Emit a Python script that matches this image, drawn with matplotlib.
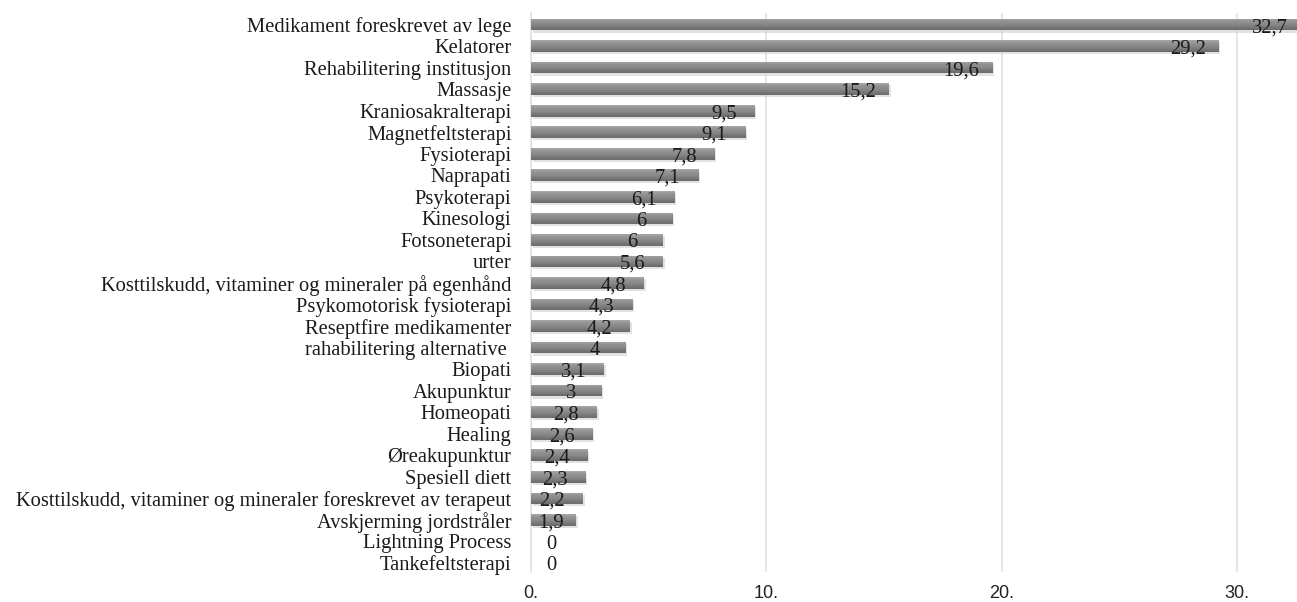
import matplotlib
matplotlib.use("Agg")
import matplotlib.pyplot as plt
import numpy as np
from matplotlib.colors import LinearSegmentedColormap

# Kategorier (ovenfra og ned) og verdier
kategorier = [
    "Medikament foreskrevet av lege", "Kelatorer", "Rehabilitering institusjon",
    "Massasje", "Kraniosakralterapi", "Magnetfeltsterapi", "Fysioterapi",
    "Naprapati", "Psykoterapi", "Kinesologi", "Fotsoneterapi", "urter",
    "Kosttilskudd, vitaminer og mineraler på egenhånd",
    "Psykomotorisk fysioterapi", "Reseptfire medikamenter",
    "rahabilitering alternative ", "Biopati", "Akupunktur", "Homeopati",
    "Healing", "Øreakupunktur", "Spesiell diett",
    "Kosttilskudd, vitaminer og mineraler foreskrevet av terapeut",
    "Avskjerming jordstråler", "Lightning Process", "Tankefeltsterapi",
]
verdier = [32.7, 29.2, 19.6, 15.2, 9.5, 9.1, 7.8, 7.1, 6.1, 6.0, 5.6, 5.6,
           4.8, 4.3, 4.2, 4.0, 3.1, 3.0, 2.8, 2.6, 2.4, 2.3, 2.2, 1.9, 0, 0]
etiketter = ["32,7", "29,2", "19,6", "15,2", "9,5", "9,1", "7,8", "7,1", "6,1",
             "6", "6", "5,6", "4,8", "4,3", "4,2", "4", "3,1", "3", "2,8", "2,6",
             "2,4", "2,3", "2,2", "1,9", "0", "0"]
x_ticks = [0, 10, 20, 30]
x_ticklabels = ["0.", "10.", "20.", "30."]

serif = "Liberation Serif"
sans = "Liberation Sans"

fig = plt.figure(figsize=(12.97, 6.02), dpi=100)
ax = fig.add_axes([0.4094, 0.0498, 0.5906, 0.9284])

y = np.arange(len(kategorier))
h = 0.54

# skygge under stolpene
ax.barh(y + 0.1, verdier, height=h, left=0.08, color="#cfcfcf", alpha=0.6,
        zorder=1, linewidth=0)
bars = ax.barh(y, verdier, height=h, color="#8d8d8d", zorder=2, linewidth=0)

# gradient i stolpene
cmap = LinearSegmentedColormap.from_list(
    "g", ["#a8a8a8", "#939393", "#8a8a8a", "#7a7a7a", "#6a6a6a"])
grad = np.linspace(0, 1, 64).reshape(-1, 1)
for b in bars:
    x0, y0 = b.get_x(), b.get_y()
    w, hh = b.get_width(), b.get_height()
    if w <= 0:
        continue
    im = ax.imshow(grad, extent=[x0, x0 + w, y0 + hh, y0], cmap=cmap,
                   aspect="auto", zorder=3, origin="upper")
    im.set_clip_path(b)

for yi, v, lab in zip(y, verdier, etiketter):
    ax.text(max(v - 1.3, 0.85), yi + 0.14, lab, ha="center", va="center",
            fontsize=14.8, family=serif, color="#1a1a1a", zorder=4)

ax.set_xlim(0, 32.55)
ax.set_ylim(len(kategorier) - 1 + 0.42, -0.53)

ax.set_yticks(y)
ax.set_yticklabels(kategorier, family=serif, fontsize=14.8, color="#1a1a1a")
ax.set_xticks(x_ticks)
ax.set_xticklabels(x_ticklabels, family=sans, fontsize=13, color="#222222")
ax.tick_params(axis="both", length=0)
ax.tick_params(axis="x", pad=9)
ax.tick_params(axis="y", pad=14)

ax.grid(axis="x", color="#e2e2e2", linewidth=1.2, zorder=0)
ax.set_axisbelow(True)
for s in ["top", "right", "bottom"]:
    ax.spines[s].set_visible(False)
ax.spines["left"].set_color("#e2e2e2")
ax.spines["left"].set_linewidth(1.2)

fig.savefig("out.png", dpi=100)
